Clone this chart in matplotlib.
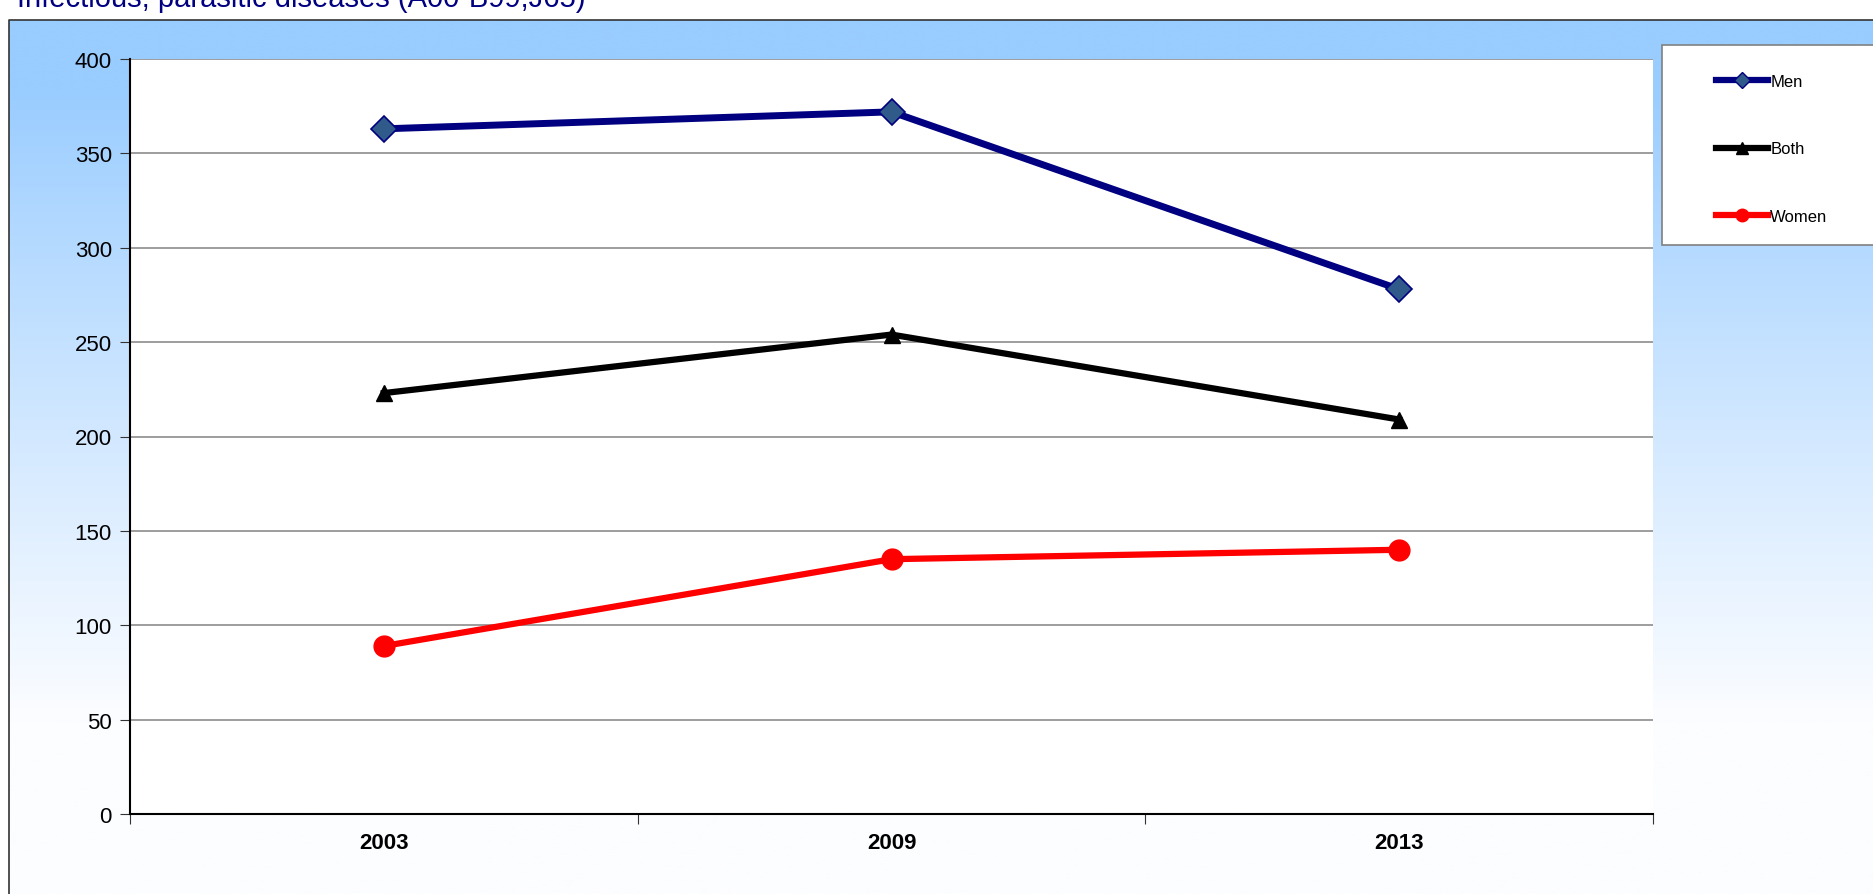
import matplotlib
matplotlib.use("Agg")
import matplotlib.pyplot as plt
import numpy as np
from matplotlib.patches import Rectangle
from matplotlib.lines import Line2D

plt.rcParams['font.family'] = ['Liberation Sans', 'DejaVu Sans']

title = "Infectious, parasitic diseases (A00-B99,J65)"
years = ["2003", "2009", "2013"]
men = [363, 372, 278]
both = [223, 254, 209]
women = [89, 135, 140]
yticks = [0, 50, 100, 150, 200, 250, 300, 350, 400]

W, H = 1874, 895
fig = plt.figure(figsize=(W / 100, H / 100), dpi=100)
fig.patch.set_facecolor('white')

# Background gradient frame
bg = fig.add_axes([0, 0, 1, 1], zorder=0)
bg.set_xlim(0, W)
bg.set_ylim(H, 0)
bg.axis('off')
n = 256
t = np.linspace(0, 1, n)
f = np.clip((t - 0.08) / 0.72, 0, 1) ** 0.9
top = np.array([153, 204, 255]) / 255
bot = np.array([252, 253, 255]) / 255
grad = top[None, :] * (1 - f[:, None]) + bot[None, :] * f[:, None]
img = np.repeat(grad[:, None, :], 2, axis=1)
bg.imshow(img, extent=[9, W + 5, H + 5, 21], aspect='auto', interpolation='bilinear')
bg.plot([9, 9, W + 5], [H + 5, 21, 21], color='#333333', lw=1.2)
bg.text(17, 6.5, title, color='#000080', fontsize=21, va='baseline', ha='left')

# Legend box
bg.add_patch(Rectangle((1662, 46), 230, 200, facecolor='white', edgecolor='#808080', lw=1.2))

ax = fig.add_axes([130 / W, 80 / H, (1653 - 130) / W, (815 - 60) / H], zorder=2)
ax.set_facecolor('white')
x = np.arange(len(years))
ax.set_xlim(-0.5, len(years) - 0.5)
ax.set_ylim(0, 400)
ax.set_yticks(yticks)
ax.set_yticklabels([str(v) for v in yticks], fontsize=16)
ax.yaxis.grid(True, color='#8c8c8c', lw=1.2)
ax.set_axisbelow(True)
ax.set_xticks(x)
ax.set_xticklabels(years, fontsize=16, fontweight='bold')
ax.set_xticks(np.arange(-0.5, len(years) + 0.5, 1), minor=True)
ax.tick_params(axis='x', which='major', length=0, pad=13)
ax.tick_params(axis='x', which='minor', length=7, width=0.8, direction='out', color='#333333')
ax.tick_params(axis='y', length=7, width=0.8, direction='out', color='#333333', pad=6)
ax.spines['top'].set_visible(False)
ax.spines['right'].set_visible(False)
ax.spines['left'].set_color('black')
ax.spines['left'].set_linewidth(1.5)
ax.spines['bottom'].set_color('black')
ax.spines['bottom'].set_linewidth(1.5)

l1, = ax.plot(x, men, color='#000080', lw=5, marker='D', ms=13,
              mfc='#2F5A8A', mec='#000080', mew=1.2, label='Men', zorder=5)
l2, = ax.plot(x, both, color='black', lw=4.5, marker='^', ms=12,
              mfc='black', mec='black', label='Both', zorder=4)
l3, = ax.plot(x, women, color='#FF0000', lw=4.5, marker='o', ms=15,
              mfc='#FF0000', mec='#FF0000', label='Women', zorder=3)

h1 = Line2D([], [], color='#000080', lw=4.5, marker='D', ms=8, mfc='#2F5A8A', mec='#000080')
h2 = Line2D([], [], color='black', lw=4.5, marker='^', ms=8, mfc='black', mec='black')
h3 = Line2D([], [], color='#FF0000', lw=4.5, marker='o', ms=9, mfc='#FF0000', mec='#FF0000')
leg = fig.legend([h1, h2, h3], ['Men', 'Both', 'Women'], loc='upper left',
                 bbox_to_anchor=(1716 / W, 1 - 75 / H), frameon=False, fontsize=12,
                 labelspacing=3.15, handlelength=3.1, handletextpad=0.15, numpoints=1,
                 borderaxespad=0, borderpad=0)

fig.savefig('out.png', dpi=100)
